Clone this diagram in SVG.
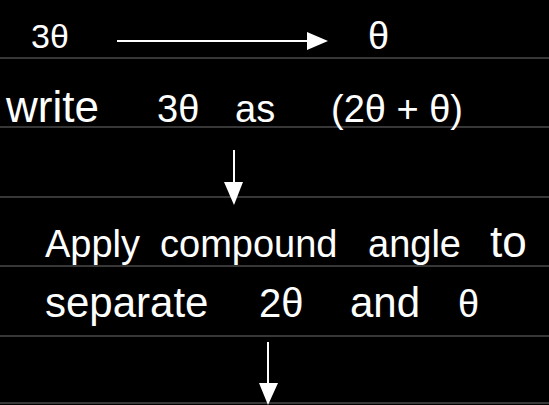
<svg xmlns="http://www.w3.org/2000/svg" width="549" height="405" viewBox="0 0 549 405">
<style>
.rule{stroke:#4a4a4a;stroke-width:1.5}
.t{fill:#ffffff;font-family:"Liberation Sans","DejaVu Sans",sans-serif}
.c{stroke:#ffffff;stroke-width:2;fill:none}
.h{fill:#ffffff}
</style>
<rect x="0" y="0" width="549" height="405" fill="#000000"/>
<g id="rules">
<line class="rule" x1="0" y1="58" x2="549" y2="58"/>
<line class="rule" x1="0" y1="127" x2="549" y2="127"/>
<line class="rule" x1="0" y1="197" x2="549" y2="197"/>
<line class="rule" x1="0" y1="266" x2="549" y2="266"/>
<line class="rule" x1="0" y1="336" x2="549" y2="336"/>
<line class="rule" x1="0" y1="403" x2="549" y2="403"/>
</g>
<g id="n1"><text class="t" x="31" y="48" font-size="34">3θ</text></g>
<g id="n2"><text class="t" x="368" y="49" font-size="38">θ</text></g>
<g id="n3">
<text class="t" x="6" y="122" font-size="44">write</text>
<text class="t" x="157" y="122" font-size="38">3θ</text>
<text class="t" x="235" y="122" font-size="38">as</text>
<text class="t" x="331" y="122" font-size="38">(2θ + θ)</text>
</g>
<g id="n4">
<text class="t" x="45" y="257" font-size="38">Apply</text>
<text class="t" x="160" y="257" font-size="38">compound</text>
<text class="t" x="368" y="257" font-size="38">angle</text>
<text class="t" x="490" y="257" font-size="44">to</text>
<text class="t" x="45" y="317" font-size="42">separate</text>
<text class="t" x="259" y="317" font-size="40">2θ</text>
<text class="t" x="350" y="317" font-size="42">and</text>
<text class="t" x="458" y="317" font-size="38">θ</text>
</g>
<g id="connectors">
<line class="c" x1="117" y1="41" x2="309" y2="41"/>
<polygon class="h" points="307,32 328,41 307,50"/>
<line class="c" x1="234" y1="150" x2="234" y2="184"/>
<polygon class="h" points="224,182 243,182 234,205"/>
<line class="c" x1="268" y1="342" x2="268" y2="385"/>
<polygon class="h" points="259,383 278,383 268,405"/>
</g>
</svg>
